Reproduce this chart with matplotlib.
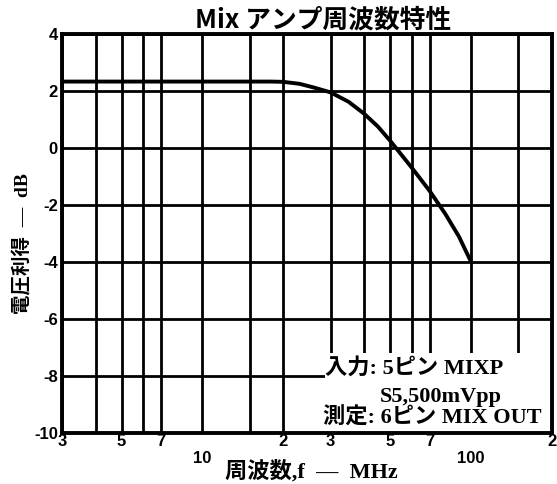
import matplotlib.pyplot as plt
from matplotlib.patches import Rectangle

# frequency response (MHz, dB)
freq = [3, 5, 10, 15, 18, 20, 23, 26, 30, 35, 40, 45, 50, 60, 70, 80, 90, 100]
gain = [2.33, 2.33, 2.33, 2.33, 2.33, 2.32, 2.25, 2.12, 1.95, 1.62, 1.2, 0.75, 0.25,
        -0.68, -1.5, -2.3, -3.1, -4.0]

grid_freqs = [4, 5, 6, 7, 10, 15, 20, 30, 40, 50, 60, 70, 100, 150]
xtick_vals = [3, 5, 7, 10, 20, 30, 50, 70, 100, 200]
xtick_labels = ['3', '5', '7', '10', '2', '3', '5', '7', '100', '2']
ytick_vals = [-10, -8, -6, -4, -2, 0, 2, 4]
ytick_labels = ['-10', '-8', '-6', '-4', '-2', '0', '2', '4']

note_lines = ['入力: 5ピン MIXP', 'S5,500mVpp', '測定: 6ピン MIX OUT']

jp_sans = ['Noto Sans CJK JP', 'DejaVu Sans']
jp_serif = ['Liberation Serif', 'Noto Sans CJK JP']

fig = plt.figure(figsize=(5.57, 4.84), dpi=100)
ax = fig.add_axes([0.1113, 0.1054, 0.8797, 0.8244])

ax.set_xscale('log')
ax.set_xlim(3, 200)
ax.set_ylim(-10, 4)

ax.set_xticks(xtick_vals)
ax.set_xticklabels(xtick_labels, fontsize=12, fontweight='bold', family='Liberation Sans')
ax.set_xticks(grid_freqs, minor=True)
ax.xaxis.set_minor_formatter(plt.NullFormatter())
ax.set_yticks(ytick_vals)
ax.set_yticklabels(ytick_labels, fontsize=12, fontweight='bold', family='Liberation Sans')
ax.tick_params(which='both', length=0)
ax.tick_params(axis='y', pad=3)
ax.tick_params(axis='x', pad=1)
for t, v in zip(ax.xaxis.get_major_ticks(), xtick_vals):
    if v in (10, 100):
        t.set_pad(13)

ax.grid(which='both', color='black', linewidth=2.0)
ax.set_axisbelow(True)
for s in ax.spines.values():
    s.set_linewidth(2.8)
    s.set_zorder(6)

ax.plot(freq, gain, color='black', linewidth=2.8, solid_capstyle='butt', zorder=3)

# white box behind the measurement note
ax.add_patch(Rectangle((0.537, 0.0), 0.463, 0.2, transform=ax.transAxes,
                       facecolor='white', edgecolor='none', zorder=4))
ax.text(0.537, 0.163, note_lines[0], transform=ax.transAxes, fontsize=16,
        fontweight='bold', family=jp_serif, va='center', ha='left', zorder=5)
ax.text(0.648, 0.09, note_lines[1], transform=ax.transAxes, fontsize=16,
        fontweight='bold', family=jp_serif, va='center', ha='left', zorder=5)
ax.text(0.533, 0.037, note_lines[2], transform=ax.transAxes, fontsize=16,
        fontweight='bold', family=jp_serif, va='center', ha='left', zorder=5)

ax.text(0.533, 1.035, 'Mix アンプ周波数特性', transform=ax.transAxes, fontsize=18.5,
        fontweight='bold', family=jp_sans, ha='center', va='center')

ax.set_xlabel('周波数,f  —  MHz', fontsize=16, fontweight='bold', family=jp_serif)
ax.xaxis.set_label_coords(0.508, -0.068)
ax.set_ylabel('電圧利得  —  dB', fontsize=14, fontweight='bold', family=jp_serif)
ax.yaxis.set_label_coords(-0.061, 0.474)

fig.savefig('out.png', dpi=100)
